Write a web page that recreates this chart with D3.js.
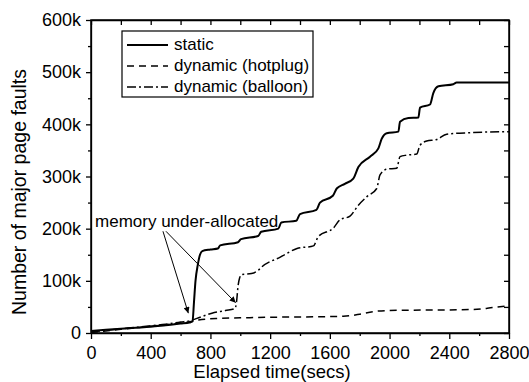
<!DOCTYPE html>
<html>
<head>
<meta charset="utf-8">
<script src="https://cdn.jsdelivr.net/npm/d3@7"></script>
<style>
  body { margin: 0; background: #fff; }
  svg { display: block; font-family: "Liberation Sans", Arial, sans-serif; }
  .axis path, .axis line { stroke: #000; stroke-width: 1.3; }
  .axis text { font-size: 18px; fill: #000; }
</style>
</head>
<body>
<svg id="chart" width="529" height="382"></svg>
<script>
// [elapsed secs, faults in k]
var staticFaults = [
  [0, 4], [100, 6], [200, 8], [300, 10], [400, 12], [500, 15], [600, 18], [660, 20],
  [680, 22], [690, 60], [700, 100], [715, 130], [730, 150], [745, 157], [800, 160],
  [850, 162], [865, 168], [985, 174], [1005, 180], [1120, 186], [1140, 194], [1255, 200],
  [1275, 212], [1375, 215], [1400, 228], [1510, 236], [1534, 250], [1620, 263], [1646, 277],
  [1700, 286], [1757, 296], [1791, 318], [1869, 338], [1925, 354], [1947, 372], [1981, 383],
  [2059, 386], [2070, 405], [2126, 412], [2193, 413], [2204, 432], [2271, 438], [2293, 460],
  [2327, 473], [2427, 477], [2449, 480], [2800, 480]
];
var hotplugFaults = [
  [0, 1], [100, 4], [200, 7], [300, 10], [400, 13], [500, 16], [600, 19], [670, 22],
  [720, 25], [850, 28], [1000, 29], [1170, 30], [1690, 32], [1800, 36], [1890, 41],
  [1980, 43], [2560, 45], [2700, 49], [2800, 52]
];
var balloonFaults = [
  [0, 2], [100, 5], [200, 8], [300, 11], [400, 14], [500, 17], [600, 21], [670, 24],
  [710, 28], [810, 38], [900, 43], [965, 47], [975, 60], [985, 90], [995, 105], [1010, 112],
  [1075, 114], [1120, 120], [1145, 127], [1265, 145], [1380, 162], [1490, 167], [1523, 185],
  [1623, 201], [1668, 217], [1735, 224], [1791, 245], [1847, 261], [1914, 277], [1936, 303],
  [1981, 314], [2048, 316], [2070, 338], [2115, 341], [2182, 343], [2204, 360], [2249, 368],
  [2316, 371], [2383, 381], [2539, 384], [2800, 386]
];
var seriesNames = ["static", "dynamic (hotplug)", "dynamic (balloon)"];
var xTicks = [0, 400, 800, 1200, 1600, 2000, 2400, 2800];
var yTicks = [0, 100, 200, 300, 400, 500, 600];
// annotation: text anchor and two arrow [from, to] in data units
var noteText = "memory under-allocated";
var notePos = [27, 204];
var noteArrows = [[[482, 195], [652, 38]], [[502, 195], [969, 58]]];

var svg = d3.select('#chart');
var L = 91, R = 509, T = 20, B = 333;
var x = d3.scaleLinear().domain([0, 2800]).range([L, R]);
var y = d3.scaleLinear().domain([0, 600]).range([B, T]);

var fmt = function(d) { return d === 0 ? "0" : d + "k"; };

// minor ticks
svg.append('g').attr('class', 'axis').attr('transform', 'translate(0,' + B + ')')
  .call(d3.axisBottom(x).tickValues(d3.range(200, 2800, 400)).tickSize(3).tickSizeOuter(0).tickFormat(''))
  .select('.domain').remove();
svg.append('g').attr('class', 'axis').attr('transform', 'translate(' + L + ',0)')
  .call(d3.axisLeft(y).tickValues(d3.range(50, 600, 100)).tickSize(3).tickSizeOuter(0).tickFormat(''))
  .select('.domain').remove();

// major ticks
svg.append('g').attr('class', 'axis').attr('transform', 'translate(0,' + B + ')')
  .call(d3.axisBottom(x).tickValues(xTicks).tickSize(6).tickPadding(7).tickSizeOuter(0).tickFormat(d3.format('d')));
svg.append('g').attr('class', 'axis').attr('transform', 'translate(' + L + ',0)')
  .call(d3.axisLeft(y).tickValues(yTicks).tickSize(5).tickPadding(5).tickSizeOuter(0).tickFormat(fmt));

// top / right inward ticks
svg.append('g').attr('class', 'axis').attr('transform', 'translate(0,' + T + ')')
  .call(d3.axisTop(x).tickValues(d3.range(0, 2801, 200)).tickSize(-5).tickSizeOuter(0).tickFormat(''));
svg.append('g').attr('class', 'axis').attr('transform', 'translate(' + R + ',0)')
  .call(d3.axisRight(y).tickValues(d3.range(0, 601, 50)).tickSize(-5).tickSizeOuter(0).tickFormat(''));

svg.append('rect').attr('x', L).attr('y', T).attr('width', R - L).attr('height', B - T)
  .attr('fill', 'none').attr('stroke', '#000').attr('stroke-width', 1.5);

// axis titles
svg.append('text').attr('x', 272).attr('y', 378).attr('text-anchor', 'middle')
  .attr('font-size', 18.5).text('Elapsed time(secs)');
svg.append('text').attr('transform', 'translate(26,192)rotate(-90)').attr('text-anchor', 'middle')
  .attr('font-size', 19.5).text('Number of major page faults');

// lines
var line = d3.line().curve(d3.curveMonotoneX)
  .x(function(d) { return x(d[0]); }).y(function(d) { return y(d[1]); });
var styles = [
  { data: staticFaults, dash: null, w: 2 },
  { data: hotplugFaults, dash: '7,5', w: 1.5 },
  { data: balloonFaults, dash: '9,3,2,3', w: 1.5 }
];
styles.forEach(function(s) {
  svg.append('path').datum(s.data).attr('d', line)
    .attr('fill', 'none').attr('stroke', '#000').attr('stroke-width', s.w)
    .attr('stroke-dasharray', s.dash);
});

// legend
var lg = svg.append('g');
lg.append('rect').attr('x', 122).attr('y', 31).attr('width', 191).attr('height', 66)
  .attr('fill', '#fff').attr('stroke', '#000').attr('stroke-width', 1.2);
seriesNames.forEach(function(n, i) {
  var by = 50 + i * 21;
  lg.append('line').attr('x1', 127).attr('x2', 168).attr('y1', by - 5).attr('y2', by - 5)
    .attr('stroke', '#000').attr('stroke-width', styles[i].w).attr('stroke-dasharray', styles[i].dash);
  lg.append('text').attr('x', 174).attr('y', by).attr('font-size', 17).text(n);
});

// annotation
svg.append('defs').append('marker').attr('id', 'arr')
  .attr('viewBox', '0 0 10 10').attr('refX', 10).attr('refY', 5)
  .attr('markerWidth', 9).attr('markerHeight', 6).attr('markerUnits', 'userSpaceOnUse')
  .attr('orient', 'auto')
  .append('path').attr('d', 'M0,0L10,5L0,10Z').attr('fill', '#000');
noteArrows.forEach(function(a) {
  svg.append('line').attr('x1', x(a[0][0])).attr('y1', y(a[0][1]))
    .attr('x2', x(a[1][0])).attr('y2', y(a[1][1]))
    .attr('stroke', '#000').attr('stroke-width', 1).attr('marker-end', 'url(#arr)');
});
svg.append('text').attr('x', x(notePos[0])).attr('y', y(notePos[1]))
  .attr('font-size', 17).text(noteText);
</script>
</body>
</html>
